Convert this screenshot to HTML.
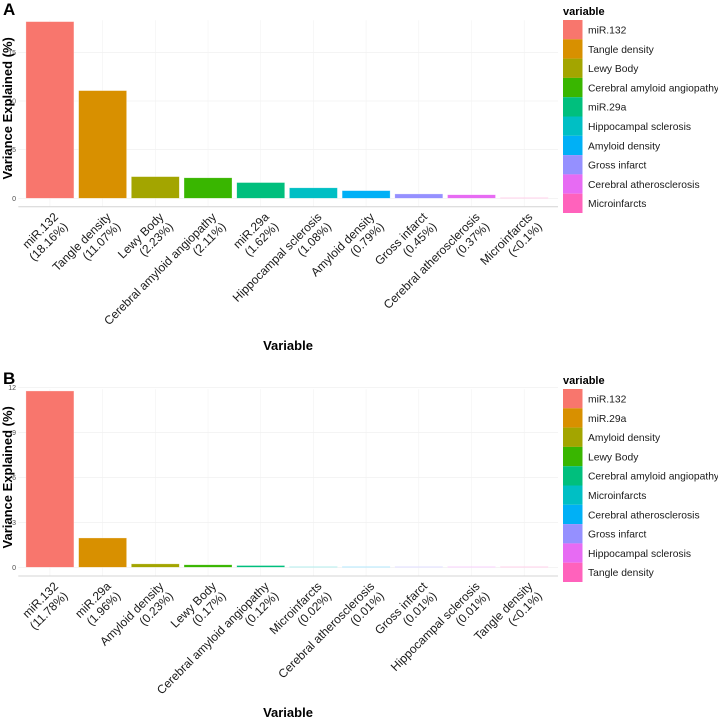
<!DOCTYPE html>
<html><head><meta charset="utf-8"><style>
body{margin:0;background:#fff}
svg{display:block;font-family:"Liberation Sans",Arial,sans-serif}
</style></head><body>
<svg id="chart" width="718" height="718" viewBox="0 0 718 718"></svg>
<script>
const colors = ["#F8766D","#D89000","#A3A500","#39B600","#00BF7D","#00BFC4","#00B0F6","#9590FF","#E76BF3","#FF62BC"];
const categoriesA = ["miR.132","Tangle density","Lewy Body","Cerebral amyloid angiopathy","miR.29a","Hippocampal sclerosis","Amyloid density","Gross infarct","Cerebral atherosclerosis","Microinfarcts"];
const valuesA = [18.16,11.07,2.23,2.11,1.62,1.08,0.79,0.45,0.37,0.05];
const pctLabelsA = ["(18.16%)","(11.07%)","(2.23%)","(2.11%)","(1.62%)","(1.08%)","(0.79%)","(0.45%)","(0.37%)","(<0.1%)"];
const ticksA = [0,5,10,15];
const categoriesB = ["miR.132","miR.29a","Amyloid density","Lewy Body","Cerebral amyloid angiopathy","Microinfarcts","Cerebral atherosclerosis","Gross infarct","Hippocampal sclerosis","Tangle density"];
const valuesB = [11.78,1.96,0.23,0.17,0.12,0.02,0.01,0.01,0.01,0.005];
const pctLabelsB = ["(11.78%)","(1.96%)","(0.23%)","(0.17%)","(0.12%)","(0.02%)","(0.01%)","(0.01%)","(0.01%)","(<0.1%)"];
const ticksB = [0,3,6,9,12];

const NS="http://www.w3.org/2000/svg";
const svg=document.getElementById('chart');
function mk(tag,attrs,parent,text){const e=document.createElementNS(NS,tag);for(const k in attrs)e.setAttribute(k,attrs[k]);if(text!==undefined)e.textContent=text;(parent||svg).appendChild(e);return e;}

function panel(o){
  const g=mk('g',{});
  
  
  const left=18.3, step=52.7, right=558;
  const x=i=>left+(i+0.6)*step;
  const y=v=>o.zeroY-v*o.unit;
  o.ticks.forEach(t=>{
    const l=mk('line',{x1:left,x2:right,y1:y(t),y2:y(t),stroke:'#ededed','stroke-width':0.6},g);
    
    
    const tx=mk('text',{x:16,y:y(t)+2.5,'font-size':7,fill:'#4d4d4d','text-anchor':'end'},g,String(t));
    
    
  });
  o.cats.forEach((c,i)=>{
    const l=mk('line',{x1:x(i),x2:x(i),y1:o.zeroY-178,y2:o.axisY,stroke:'#f2f2f2','stroke-width':0.6},g);
    
    
  });
  o.vals.forEach((v,i)=>{
    const h=Math.max(v*o.unit,0.6);
    const r=mk('rect',{x:x(i)-24,y:o.zeroY-h,width:48,height:h,fill:colors[i],stroke:'#fff','stroke-opacity':0.5,'stroke-width':0.6},g);
    
    
  });
  const ax=mk('line',{x1:left,x2:right,y1:o.axisY,y2:o.axisY,stroke:'#d4d4d4','stroke-width':1},g);
  
  
  o.cats.forEach((c,i)=>{
    const ax0=x(i)+9, ay0=o.axisY+11;
    const t=mk('text',{transform:`translate(${ax0},${ay0}) rotate(-45)`,'font-size':12,fill:'#1a1a1a','text-anchor':'end'},g);
    
    
    mk('tspan',{x:0,y:0},t,c);
    mk('tspan',{x:0,y:13.5},t,o.pcts[i]);
  });
  const xt=mk('text',{x:288,y:o.xTitleY,'font-size':13,'font-weight':'bold','text-anchor':'middle',fill:'#000'},g,'Variable');
  
  
  const yt=mk('text',{transform:`translate(12,${o.zeroY-90}) rotate(-90)`,'font-size':13,'font-weight':'bold','text-anchor':'middle',fill:'#000'},g,'Variance Explained (%)');
  
  
  const pl=mk('text',{x:3,y:o.panelY,'font-size':17,'font-weight':'bold',fill:'#000'},g,o.letter);
  
  
  const lg=mk('g',{},g);
  
  
  const lt=mk('text',{x:563,y:o.legY-5,'font-size':11,'font-weight':'bold',fill:'#000'},lg,'variable');
  
  
  o.cats.forEach((c,i)=>{
    const e=mk('g',{},lg);
    
    
    mk('rect',{x:563,y:o.legY+i*19.3,width:19.5,height:19.3,fill:colors[i]},e);
    mk('text',{x:588,y:o.legY+i*19.3+13.5,'font-size':10.3,fill:'#1a1a1a'},e,c);
  });
}
panel({name:'panel-a',letter:'A',cats:categoriesA,vals:valuesA,pcts:pctLabelsA,ticks:ticksA,zeroY:198.3,unit:9.73,axisY:206.7,xTitleY:350,panelY:15,legY:20});
panel({name:'panel-b',letter:'B',cats:categoriesB,vals:valuesB,pcts:pctLabelsB,ticks:ticksB,zeroY:567.3,unit:14.97,axisY:576,xTitleY:717,panelY:384,legY:389});
</script>
</body></html>
